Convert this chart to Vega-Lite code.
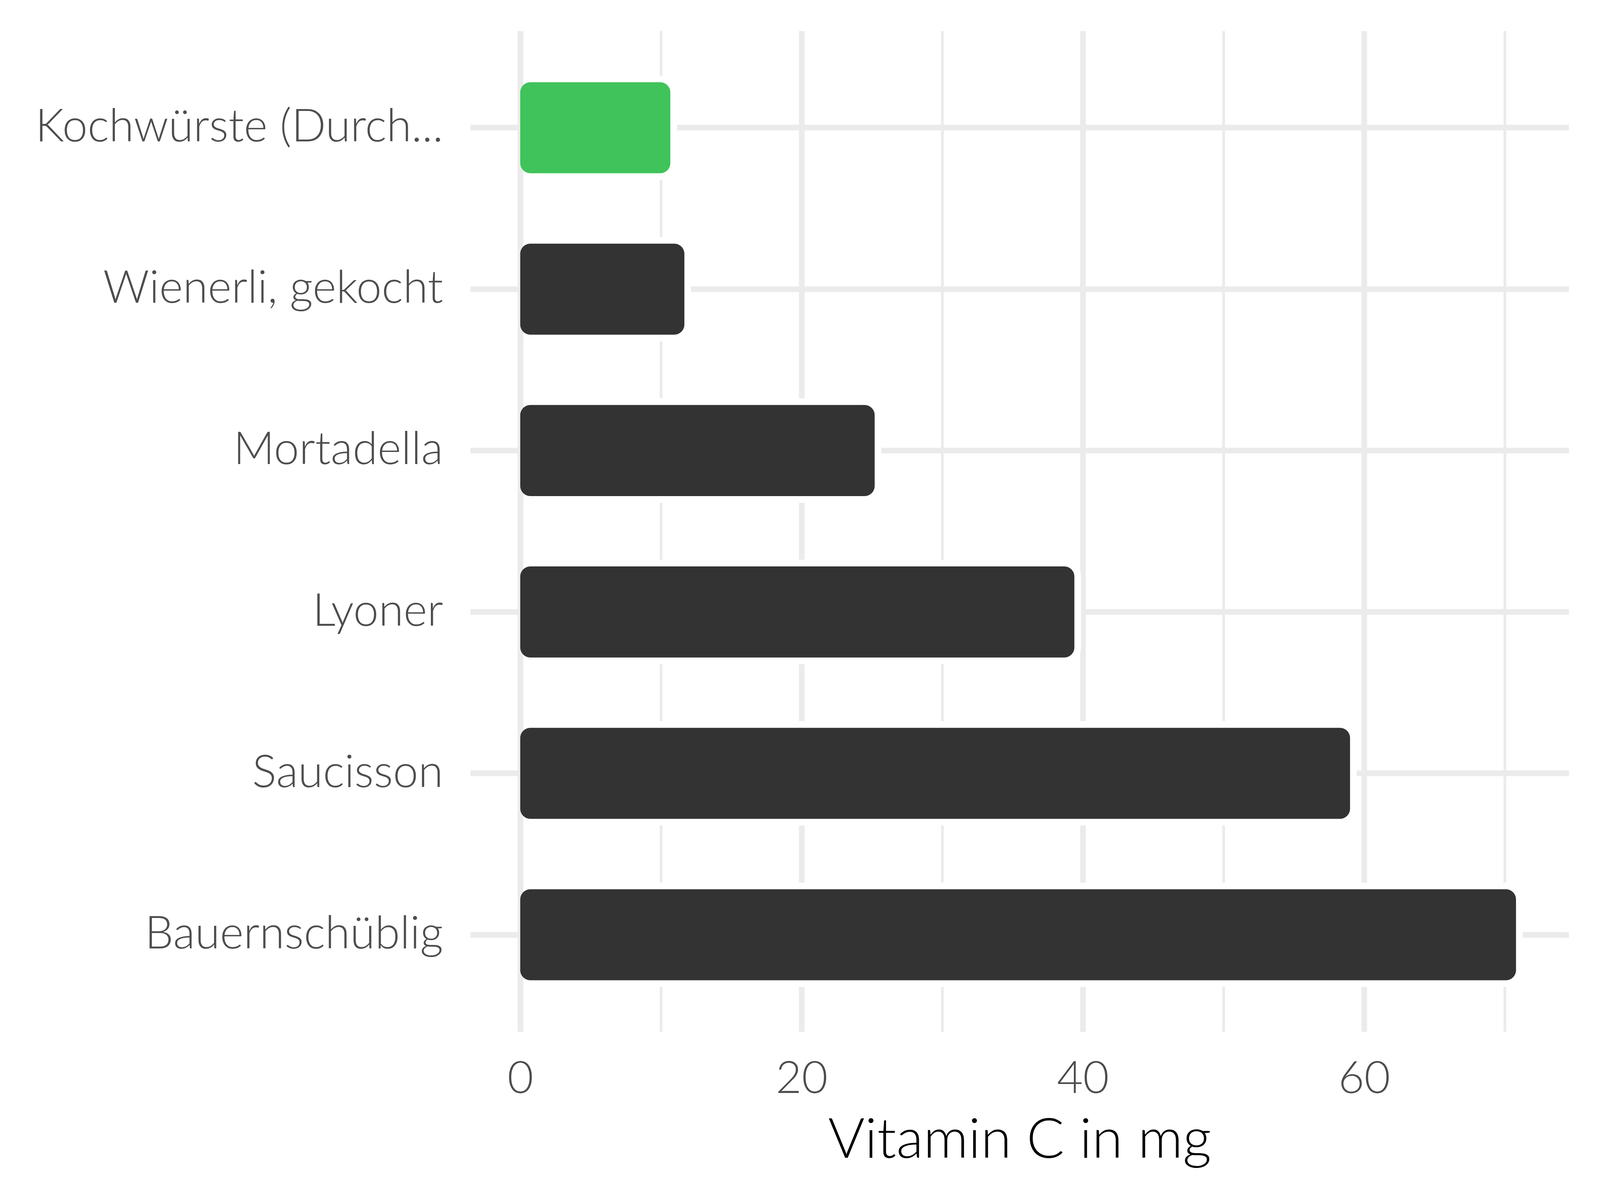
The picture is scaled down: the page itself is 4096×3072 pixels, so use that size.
{
  "$schema": "https://vega.github.io/schema/vega-lite/v6.json",
  "autosize": "none",
  "width": 2812,
  "height": 2562,
  "padding": {"left": 1204, "top": 79, "right": 80, "bottom": 431},
  "background": "white",
  "config": {"view": {"stroke": null}, "font": "Lato"},
  "data": {
    "values": [
      {"name": "Kochwürste (Durch...", "v": 10.67, "group": "highlight"},
      {"name": "Wienerli, gekocht", "v": 11.67, "group": "other"},
      {"name": "Mortadella", "v": 25.2, "group": "other"},
      {"name": "Lyoner", "v": 39.4, "group": "other"},
      {"name": "Saucisson", "v": 59.0, "group": "other"},
      {"name": "Bauernschüblig", "v": 70.8, "group": "other"}
    ]
  },
  "encoding": {
    "y": {
      "field": "name",
      "type": "nominal",
      "sort": null,
      "scale": {"paddingInner": 0.436, "paddingOuter": 0.318},
      "axis": {
        "title": null,
        "domain": false,
        "ticks": false,
        "tickSize": 0,
        "grid": true,
        "gridColor": "#EBEBEB",
        "gridWidth": 14.5,
        "bandPosition": 0.5,
        "labelFont": "Lato",
        "labelFontWeight": 300,
        "labelFontSize": 116,
        "labelColor": "#4D4D4D",
        "labelPadding": 70,
        "labelLimit": 3000
      }
    }
  },
  "layer": [
    {
      "mark": {"type": "bar", "fill": "white", "stroke": "white", "strokeWidth": 34, "cornerRadiusEnd": 26},
      "encoding": {
        "x": {
          "field": "v",
          "type": "quantitative",
          "scale": {"domain": [-3.55, 74.55], "nice": false, "zero": false},
          "axis": {
            "orient": "top",
            "values": [10, 30, 50, 70],
            "grid": true,
            "gridColor": "#EBEBEB",
            "gridWidth": 7,
            "labels": false,
            "ticks": false,
            "tickSize": 0,
            "domain": false,
            "title": null
          }
        },
        "x2": {"datum": 2}
      }
    },
    {
      "mark": {"type": "bar", "cornerRadiusEnd": 26},
      "encoding": {
        "x": {
          "field": "v",
          "type": "quantitative",
          "axis": {
            "orient": "bottom",
            "values": [0, 20, 40, 60],
            "grid": true,
            "gridColor": "#EBEBEB",
            "gridWidth": 14.5,
            "domain": false,
            "ticks": false,
            "tickSize": 0,
            "labelFont": "Lato",
            "labelFontWeight": 300,
            "labelFontSize": 115,
            "labelColor": "#4D4D4D",
            "labelPadding": 65,
            "title": "Vitamin C in mg",
            "titleFont": "Lato",
            "titleFontWeight": 300,
            "titleFontSize": 143,
            "titleColor": "#000000",
            "titlePadding": 30
          }
        },
        "x2": {"datum": 0},
        "color": {
          "field": "group",
          "type": "nominal",
          "scale": {"domain": ["highlight", "other"], "range": ["#3FC35A", "#333333"]},
          "legend": null
        }
      }
    }
  ],
  "resolve": {"axis": {"x": "independent"}}
}
